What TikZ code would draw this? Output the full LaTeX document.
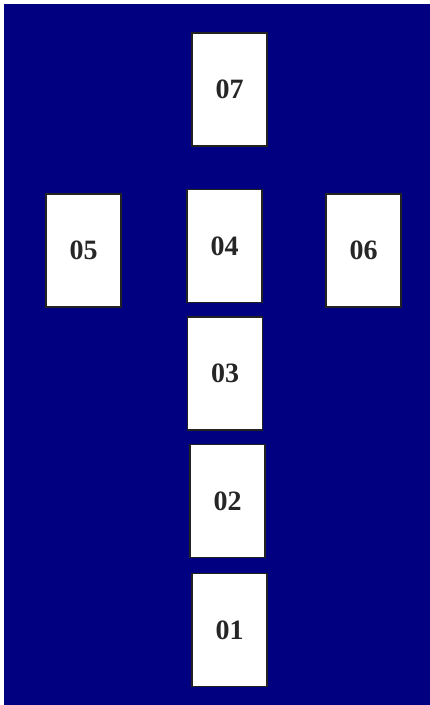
\documentclass[tikz,border=0pt]{standalone}
\usepackage{fontspec}
\setmainfont{Liberation Serif}
\definecolor{navybg}{HTML}{000080}
\definecolor{cardedge}{HTML}{222222}
\begin{document}
\begin{tikzpicture}[x=1pt,y=-1pt,
  card/.style={draw=cardedge, line width=1.2pt, fill=white, minimum width=75pt, minimum height=113pt, inner sep=0pt, font=\bfseries\fontsize{28}{28}\selectfont, text=black!85}]
\useasboundingbox (0,0) rectangle (430,705);
\fill[white] (0,0) rectangle (430,705);
\fill[navybg] (4,4) rectangle (430,705);
\node[card] (c07) at (229.5,89.5) {\raisebox{-1.5pt}{07}};
\node[card] (c05) at (83.5,250.5) {\raisebox{-1.5pt}{05}};
\node[card] (c04) at (224.5,246) {\raisebox{-1.5pt}{04}};
\node[card] (c06) at (363.5,250.5) {\raisebox{-1.5pt}{06}};
\node[card] (c03) at (225,373.5) {\raisebox{-1.5pt}{03}};
\node[card] (c02) at (227.5,501) {\raisebox{-1.5pt}{02}};
\node[card] (c01) at (229.5,630) {\raisebox{-1.5pt}{01}};
\end{tikzpicture}
\end{document}
